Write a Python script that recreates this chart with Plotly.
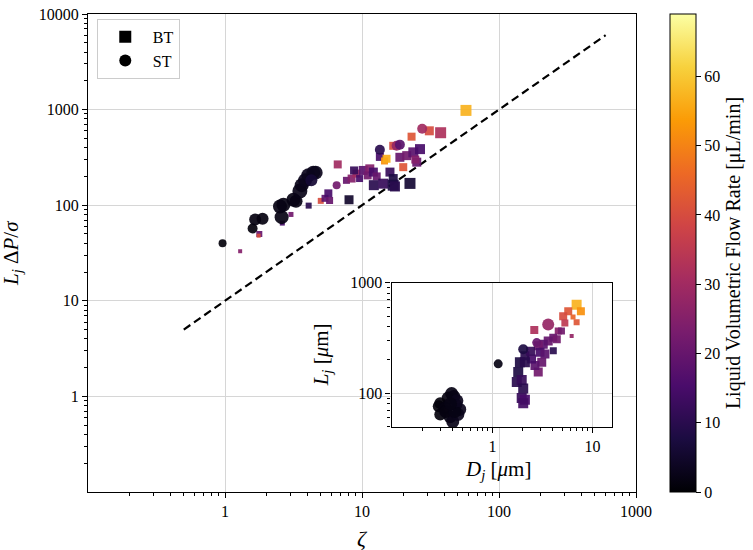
import plotly.graph_objects as go

# ---------------- data ----------------
# Main panel, BT (squares): zeta, Lj*dP/sigma, flow rate [uL/min], marker size
bt_zeta = [1.29, 1.78, 1.76, 2.62, 3.03, 4.08, 5.0, 5.37, 5.68, 5.8, 6.65, 8.04, 7.7, 8.4, 9.1,
           8.75, 9.6, 10.2, 11.4, 11.0, 12.1, 12.8, 12.2, 14.3, 13.5, 14.6, 15.1, 16.9, 16.0,
           16.9, 16.9, 17.4, 20.0, 22.4, 23.0, 18.9, 21.2, 23.7, 26.5, 25.1, 24.5, 31.0, 37.5, 57.4]
bt_ldp = [33, 50, 48, 65, 80, 99, 111, 118, 133, 112, 267, 114, 182, 190, 214,
          231, 190, 231, 240, 205, 222, 200, 162, 168, 320, 290, 306, 418, 222,
          190, 162, 157, 250, 169, 521, 317, 330, 357, 386, 282, 300, 600, 573, 981]
bt_flow = [25, 20, 40, 15, 22, 10, 40, 18, 15, 20, 30, 5, 20, 25, 30,
           12, 15, 18, 25, 22, 15, 20, 10, 12, 15, 52, 56, 40, 12,
           8, 8, 10, 42, 6, 42, 20, 22, 18, 15, 20, 25, 40, 32, 57]
bt_size = [4, 6, 4, 5, 5, 6, 6, 7, 8, 7, 8, 9, 7, 8, 8,
           8, 7, 9, 9, 8, 9, 8, 10, 10, 8, 7, 8, 8, 9,
           9, 11, 10, 8, 11, 8, 9, 9, 10, 10, 9, 8, 9, 11, 11]

# Main panel, ST (circles)
st_zeta = [0.96, 1.59, 1.66, 1.88, 2.59, 2.52, 2.67, 3.16, 3.3, 3.52, 3.63, 3.84, 4.06,
           4.41, 4.59, 4.27, 6.53, 13.5, 17.9, 18.9, 27.5]
st_ldp = [40, 57, 71, 72, 75, 97, 101, 114, 110, 141, 162, 182, 206,
          219, 219, 182, 162, 380, 418, 430, 630]
st_flow = [1, 1, 1.5, 1.5, 2, 2, 2, 2, 2, 2.5, 2.5, 3, 3,
           3, 3, 6, 22, 10, 28, 18, 30]
st_size = [8, 10, 12, 12, 14, 14, 14, 14, 13, 15, 14, 14, 14,
           14, 14, 12, 8, 10, 10, 10, 10]

# Inset, BT (squares): Dj [um], Lj [um]
in_bt_d = [6.95, 7.67, 5.73, 5.1, 6.95, 6.4, 6.2, 2.62, 5.3, 4.55, 4.9, 4.06, 4.4, 3.61, 3.22,
           2.87, 4.06, 2.99, 3.35, 3.11, 2.87, 2.66, 2.46, 1.88, 2.11, 1.81, 1.75, 1.96, 2.03,
           1.96, 2.11, 2.03, 2.11, 2.4]
in_bt_l = [631, 551, 551, 497, 439, 490, 330, 373, 433, 366, 366, 318, 307, 297, 277,
           268, 242, 234, 226, 190, 155, 178, 204, 190, 190, 155, 126, 131, 110,
           90, 87, 81, 218, 240]
in_bt_flow = [57, 52, 42, 40, 42, 45, 28, 32, 35, 25, 22, 20, 22, 20, 18,
              22, 10, 15, 18, 20, 22, 18, 15, 8, 10, 8, 10, 12, 10,
              12, 15, 14, 10, 12]
in_bt_size = [10, 8, 8, 8, 6, 5, 4, 8, 7, 7, 7, 8, 8, 9, 9,
              9, 7, 9, 9, 9, 9, 9, 9, 10, 10, 10, 10, 10, 10,
              10, 10, 10, 9, 9]

# Inset, ST (circles)
in_st_d = [0.39, 0.36, 0.41, 0.30, 0.29, 0.43, 0.335, 0.47, 0.30, 0.376, 0.40, 0.45, 0.34,
           0.42, 0.44, 0.38, 1.14, 2.03, 3.61, 2.77]
in_st_l = [99, 90, 93, 81, 76, 78, 73, 71, 64, 61, 55, 64, 68,
           68, 85, 80, 184, 250, 418, 287]
in_st_flow = [2, 1.5, 2, 1, 1, 2.5, 1.5, 3, 1, 2, 2.5, 3, 1.5,
              2, 3, 2, 2, 8, 28, 20]
in_st_size = [13, 13, 13, 12, 12, 13, 13, 13, 12, 13, 13, 13, 13,
              13, 13, 13, 9, 10, 12, 9]

# Reference line Lj*dP/sigma = 10*zeta
line_zeta = [0.5, 600]
line_ldp = [5, 6000]

# Axis tick labels
main_x_ticks = [1, 10, 100, 1000]
main_y_ticks = [1, 10, 100, 1000, 10000]
inset_x_ticks = [1, 10]
inset_y_ticks = [100, 1000]
cbar_ticks = [0, 10, 20, 30, 40, 50, 60]

# ---------------- figure ----------------
FONT = "Liberation Serif"
fig = go.Figure()

fig.add_trace(go.Scatter(
    x=line_zeta, y=line_ldp, mode="lines", showlegend=False,
    line=dict(color="black", width=2.2, dash="8px,4.5px"), xaxis="x", yaxis="y"))

fig.add_trace(go.Scatter(
    x=bt_zeta, y=bt_ldp, mode="markers", showlegend=False, xaxis="x", yaxis="y",
    marker=dict(symbol="square", size=bt_size, color=bt_flow, coloraxis="coloraxis",
                opacity=0.92, line=dict(width=0))))
fig.add_trace(go.Scatter(
    x=st_zeta, y=st_ldp, mode="markers", showlegend=False, xaxis="x", yaxis="y",
    marker=dict(symbol="circle", size=st_size, color=st_flow, coloraxis="coloraxis",
                opacity=0.92, line=dict(width=0))))

fig.add_trace(go.Scatter(
    x=in_bt_d, y=in_bt_l, mode="markers", showlegend=False, xaxis="x2", yaxis="y2",
    marker=dict(symbol="square", size=in_bt_size, color=in_bt_flow, coloraxis="coloraxis",
                opacity=0.92, line=dict(width=0))))
fig.add_trace(go.Scatter(
    x=in_st_d, y=in_st_l, mode="markers", showlegend=False, xaxis="x2", yaxis="y2",
    marker=dict(symbol="circle", size=in_st_size, color=in_st_flow, coloraxis="coloraxis",
                opacity=0.92, line=dict(width=0))))

# legend entries
fig.add_trace(go.Scatter(x=[None], y=[None], mode="markers", name="BT",
                         marker=dict(symbol="square", size=12, color="black")))
fig.add_trace(go.Scatter(x=[None], y=[None], mode="markers", name="ST",
                         marker=dict(symbol="circle", size=12, color="black")))

minor_main_x = [m * 10.0 ** e for e in range(-1, 3) for m in range(2, 10)]
minor_main_y = [m * 10.0 ** e for e in range(-1, 4) for m in range(2, 10)]
minor_in_x = [m * 10.0 ** e for e in range(-1, 2) for m in range(2, 10)]
minor_in_y = [m * 10.0 ** e for e in range(1, 3) for m in range(2, 10)]

axis_common = dict(
    type="log", showline=True, linecolor="black", linewidth=1.2, mirror=True,
    showgrid=True, gridcolor="#d6d6d6", gridwidth=1, zeroline=False,
    ticks="outside", ticklen=5, tickwidth=1, tickcolor="black",
    tickfont=dict(family=FONT, size=16, color="black"),
)

fig.update_layout(
    width=753, height=550, autosize=False,
    margin=dict(l=88, r=117, t=6, b=58),
    paper_bgcolor="white", plot_bgcolor="white",
    font=dict(family=FONT, size=16, color="black"),
    xaxis=dict(**axis_common, range=[-1, 3], domain=[0, 1], anchor="y",
               tickmode="array", tickvals=main_x_ticks, ticktext=[str(v) for v in main_x_ticks],
               minor=dict(tickmode="array", tickvals=minor_main_x, ticks="outside",
                          ticklen=3, tickcolor="black", showgrid=False)),
    yaxis=dict(**axis_common, range=[-1, 4], domain=[0, 1], anchor="x",
               tickmode="array", tickvals=main_y_ticks, ticktext=[str(v) for v in main_y_ticks],
               minor=dict(tickmode="array", tickvals=minor_main_y, ticks="outside",
                          ticklen=3, tickcolor="black", showgrid=False)),
    xaxis2=dict(**axis_common, range=[-1.01, 1.195], domain=[0.554, 0.956], anchor="y2",
                tickmode="array", tickvals=inset_x_ticks, ticktext=[str(v) for v in inset_x_ticks],
                minor=dict(tickmode="array", tickvals=minor_in_x, ticks="outside",
                           ticklen=3, tickcolor="black", showgrid=False)),
    yaxis2=dict(**axis_common, range=[1.692, 3.0], domain=[0.136, 0.4376], anchor="x2",
                tickmode="array", tickvals=inset_y_ticks, ticktext=[str(v) for v in inset_y_ticks],
                minor=dict(tickmode="array", tickvals=minor_in_y, ticks="outside",
                           ticklen=3, tickcolor="black", showgrid=False)),
    coloraxis=dict(
        colorscale="Inferno", cmin=0, cmax=69,
        colorbar=dict(
            x=1.062, xanchor="left", xpad=0, y=0.5, yanchor="middle", len=1, lenmode="fraction",
            ypad=0, thickness=26, thicknessmode="pixels",
            outlinecolor="black", outlinewidth=1,
            tickmode="array", tickvals=cbar_ticks, ticks="outside", ticklen=5, tickcolor="black",
            tickfont=dict(family=FONT, size=16, color="black"),
            title=dict(text="Liquid Volumetric Flow Rate [μL/min]", side="right",
                       font=dict(family=FONT, size=20, color="black")),
        ),
    ),
    legend=dict(x=0.016, y=0.99, xanchor="left", yanchor="top",
                bgcolor="white", bordercolor="#cccccc", borderwidth=1,
                font=dict(family=FONT, size=16, color="black"),
                itemsizing="constant", itemwidth=45, tracegroupgap=2),
    shapes=[dict(type="rect", xref="x2", yref="y2", layer="below",
                 x0=10 ** -1.01, x1=10 ** 1.195, y0=10 ** 1.692, y1=1000,
                 fillcolor="white", line=dict(width=0))],
    annotations=[
        dict(text="<i>ζ</i>", xref="paper", yref="paper", x=0.5, y=0, yshift=-46,
             xanchor="center", yanchor="middle", showarrow=False,
             font=dict(family=FONT, size=22, color="black")),
        dict(text="<i>L<sub>j</sub></i> Δ<i>P</i>/<i>σ</i>", xref="paper", yref="paper",
             x=0, y=0.5, xshift=-76, textangle=-90, xanchor="center", yanchor="middle",
             showarrow=False, font=dict(family=FONT, size=21, color="black")),
        dict(text="<i>D<sub>j</sub></i> [<i>μ</i>m]", xref="paper", yref="paper",
             x=0.748, y=0.0453, xanchor="center", yanchor="middle", showarrow=False,
             font=dict(family=FONT, size=21, color="black")),
        dict(text="<i>L<sub>j</sub></i> [<i>μ</i>m]", xref="paper", yref="paper",
             x=0.427, y=0.288, textangle=-90, xanchor="center", yanchor="middle",
             showarrow=False, font=dict(family=FONT, size=21, color="black")),
    ],
)

fig.write_html("out.html", config={"displayModeBar": False},
               post_script="document.body.style.margin='0px';document.body.style.overflow='hidden';")
